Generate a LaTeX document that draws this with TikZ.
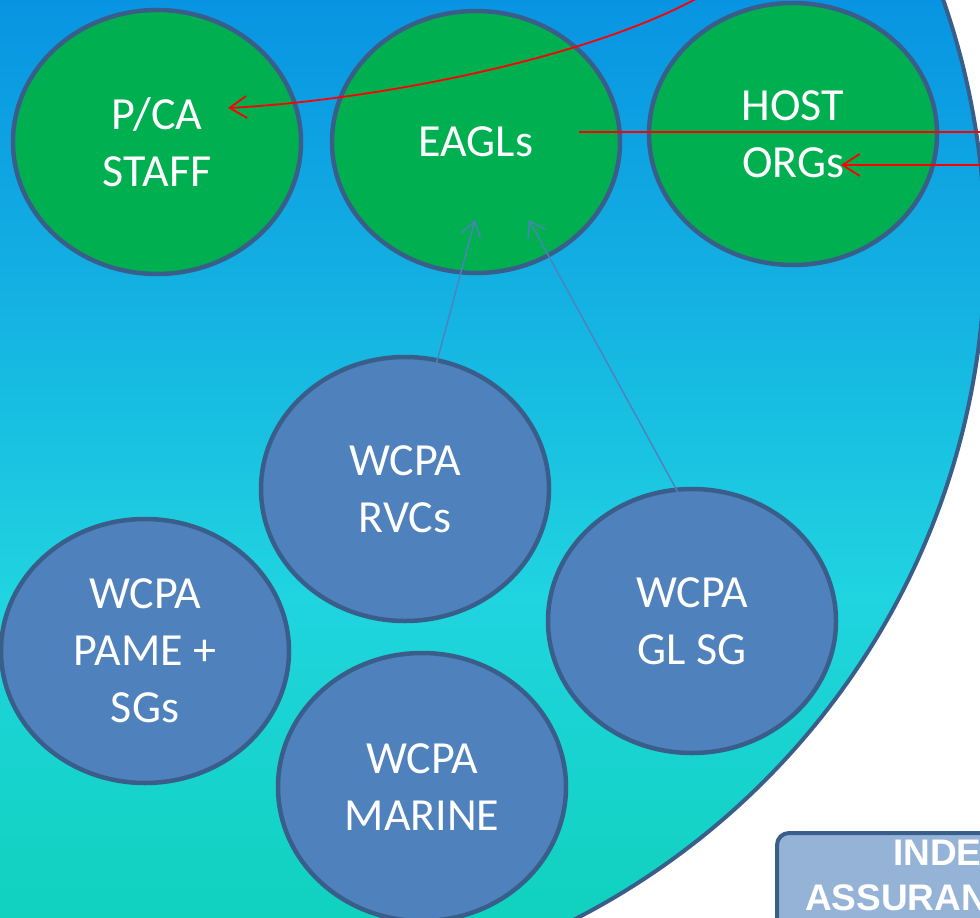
\documentclass[tikz,border=0pt]{standalone}
\usepackage{fontspec}
\setmainfont{Carlito}
\newfontfamily\boxfont{Liberation Sans}
\usetikzlibrary{shapes.geometric,arrows.meta}
\definecolor{nodegreen}{RGB}{0,176,80}
\definecolor{nodeblue}{RGB}{79,129,189}
\definecolor{edgeblue}{RGB}{58,94,138}
\definecolor{boxblue}{RGB}{149,179,215}
\definecolor{bgtop}{RGB}{8,148,226}
\definecolor{bgmidA}{RGB}{20,178,226}
\definecolor{bgmidB}{RGB}{32,212,224}
\definecolor{bgbot}{RGB}{16,210,190}
\pgfdeclareverticalshading{bgshade}{100bp}{color(0bp)=(bgbot); color(25bp)=(bgbot); color(42.5bp)=(bgmidB); color(58.5bp)=(bgmidA); color(75bp)=(bgtop); color(100bp)=(bgtop)}
\tikzset{
  bubble/.style={ellipse, draw=edgeblue, line width=4.5pt, inner sep=0pt,
    minimum width=288pt, minimum height=264pt, text=white, align=center,
    font=\fontsize{46}{57}\selectfont},
  greenbubble/.style={bubble, fill=nodegreen},
  bluebubble/.style={bubble, fill=nodeblue},
  redarrow/.style={draw=red, line width=1.8pt, -{Straight Barb[length=17pt,width=22pt]}},
  redline/.style={draw=red, line width=1.8pt},
  bluearrow/.style={draw=nodeblue, line width=1.4pt, -{Straight Barb[length=15pt,width=20pt]}},
  boxtext/.style={text=white, inner sep=0pt, anchor=base west,
    font=\boxfont\bfseries\fontsize{37}{42}\selectfont}
}
\begin{document}
\begin{tikzpicture}[x=1pt,y=-1pt]
\useasboundingbox (0,0) rectangle (980,918);
\begin{scope}
\clip (0,0) rectangle (980,918);
% big background circle
\begin{scope}
\clip (231,248) circle (754pt);
\shade[shading=bgshade] (0,0) rectangle (980,918);
\end{scope}
\draw[edgeblue, line width=4pt] (231,248) circle (754pt);

% green bubbles
\node[greenbubble] (pca) at (157,142) {P/CA\\STAFF};
\node[greenbubble, minimum height=262pt] (eagl) at (476,142) {EAGLs};
\node[greenbubble, minimum height=262pt] (host) at (793,134) {HOST\\ORGs};

% blue bubbles
\node[bluebubble] (rvc) at (405,489) {WCPA\\RVCs};
\node[bluebubble] (glsg) at (692,621) {WCPA\\GL SG};
\node[bluebubble] (pame) at (145,651) {WCPA\\PAME +\\SGs};
\node[bluebubble, minimum height=268pt] (marine) at (422,787) {WCPA\\MARINE};

% connector end points
\coordinate (topsrc) at (708,-8);
\coordinate (pcain) at (228,108);
\coordinate (eaglout) at (579,132);
\coordinate (rightA) at (995,132);
\coordinate (rightB) at (995,165);
\coordinate (hostin) at (841,165);
\coordinate (rvcout) at (422,417);
\coordinate (eaglinA) at (475,220);
\coordinate (glsgout) at (692,518);
\coordinate (eaglinB) at (529,220);

% red connectors
\draw[redarrow] (topsrc) .. controls (600,56) and (380,100) .. (pcain);
\draw[redline] (eaglout) -- (rightA);
\draw[redarrow] (rightB) -- (hostin);

% blue connectors
\draw[bluearrow] (rvcout) -- (eaglinA);
\draw[bluearrow] (glsgout) -- (eaglinB);

% assurance box
\node[draw=edgeblue, fill=boxblue, line width=4pt, rounded corners=12pt,
  minimum width=240pt, minimum height=120pt, anchor=north west, inner sep=0pt]
  (assur) at (775,831) {};
\node[boxtext] (assurA) at (893,865) {INDE};
\node[boxtext] (assurB) at (805,910) {ASSURAN};
\end{scope}
\end{tikzpicture}
\end{document}
